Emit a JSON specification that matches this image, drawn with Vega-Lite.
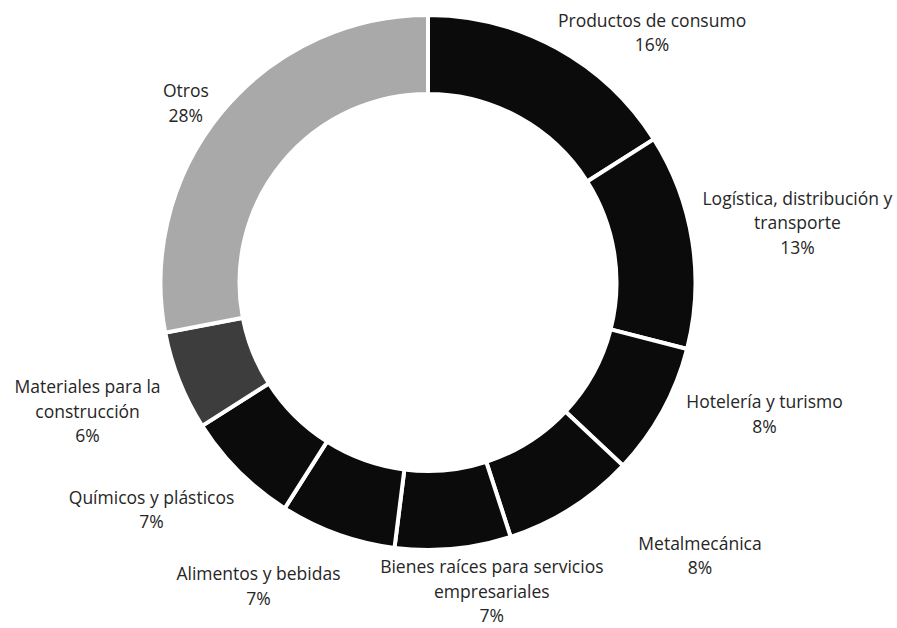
{
  "$schema": "https://vega.github.io/schema/vega-lite/v6.json",
  "width": 856,
  "height": 565,
  "autosize": {"type": "none"},
  "padding": {"left": 0, "top": 0, "right": 41, "bottom": 63},
  "background": "#ffffff",
  "config": {"view": {"stroke": null}, "text": {"font": "Open Sans", "fontSize": 17.5, "fill": "#262626", "lineHeight": 24.5, "lineBreak": "\n", "align": "center", "baseline": "middle"}},
  "data": {"values": [
    {"orden": 1, "cat": "Productos de consumo", "value": 16, "label": "Productos de consumo\n16%"},
    {"orden": 2, "cat": "Logística, distribución y transporte", "value": 13, "label": "Logística, distribución y\ntransporte\n13%"},
    {"orden": 3, "cat": "Hotelería y turismo", "value": 8, "label": "Hotelería y turismo\n8%"},
    {"orden": 4, "cat": "Metalmecánica", "value": 8, "label": "Metalmecánica\n8%"},
    {"orden": 5, "cat": "Bienes raíces para servicios empresariales", "value": 7, "label": "Bienes raíces para servicios\nempresariales\n7%"},
    {"orden": 6, "cat": "Alimentos y bebidas", "value": 7, "label": "Alimentos y bebidas\n7%"},
    {"orden": 7, "cat": "Químicos y plásticos", "value": 7, "label": "Químicos y plásticos\n7%"},
    {"orden": 8, "cat": "Materiales para la construcción", "value": 6, "label": "Materiales para la\nconstrucción\n6%"},
    {"orden": 9, "cat": "Otros", "value": 28, "label": "Otros\n28%"}
  ]},
  "encoding": {
    "theta": {"field": "value", "type": "quantitative", "stack": true},
    "order": {"field": "orden", "type": "quantitative", "sort": "ascending"}
  },
  "layer": [
    {
      "mark": {"type": "arc", "outerRadius": 267.5, "innerRadius": 188.5, "stroke": "#ffffff", "strokeWidth": 4},
      "encoding": {
        "color": {"field": "cat", "type": "nominal", "legend": null,
          "scale": {"domain": ["Productos de consumo", "Logística, distribución y transporte", "Hotelería y turismo", "Metalmecánica", "Bienes raíces para servicios empresariales", "Alimentos y bebidas", "Químicos y plásticos", "Materiales para la construcción", "Otros"],
                    "range": ["#0b0b0b", "#0b0b0b", "#0b0b0b", "#0b0b0b", "#0b0b0b", "#0b0b0b", "#0b0b0b", "#3d3d3d", "#a9a9a9"]}}
      }
    },
    {"mark": {"type": "text", "radius": 326, "dx": 67, "dy": 25},
     "encoding": {"text": {"condition": {"test": "datum.orden === 1", "field": "label"}, "value": ""}}},
    {"mark": {"type": "text", "radius": 374, "dx": 0, "dy": -24},
     "encoding": {"text": {"condition": {"test": "datum.orden === 2", "field": "label"}, "value": ""}}},
    {"mark": {"type": "text", "radius": 359, "dx": 22, "dy": -52},
     "encoding": {"text": {"condition": {"test": "datum.orden === 3", "field": "label"}, "value": ""}}},
    {"mark": {"type": "text", "radius": 377, "dx": 70, "dy": -56},
     "encoding": {"text": {"condition": {"test": "datum.orden === 4", "field": "label"}, "value": ""}}},
    {"mark": {"type": "text", "radius": 317, "dx": 34, "dy": -30},
     "encoding": {"text": {"condition": {"test": "datum.orden === 5", "field": "label"}, "value": ""}}},
    {"mark": {"type": "text", "radius": 344, "dx": -53, "dy": -31},
     "encoding": {"text": {"condition": {"test": "datum.orden === 6", "field": "label"}, "value": ""}}},
    {"mark": {"type": "text", "radius": 357, "dx": -24, "dy": -36},
     "encoding": {"text": {"condition": {"test": "datum.orden === 7", "field": "label"}, "value": ""}}},
    {"mark": {"type": "text", "radius": 364, "dx": -2, "dy": -28},
     "encoding": {"text": {"condition": {"test": "datum.orden === 8", "field": "label"}, "value": ""}}},
    {"mark": {"type": "text", "radius": 300, "dx": -11, "dy": 1},
     "encoding": {"text": {"condition": {"test": "datum.orden === 9", "field": "label"}, "value": ""}}}
  ]
}
